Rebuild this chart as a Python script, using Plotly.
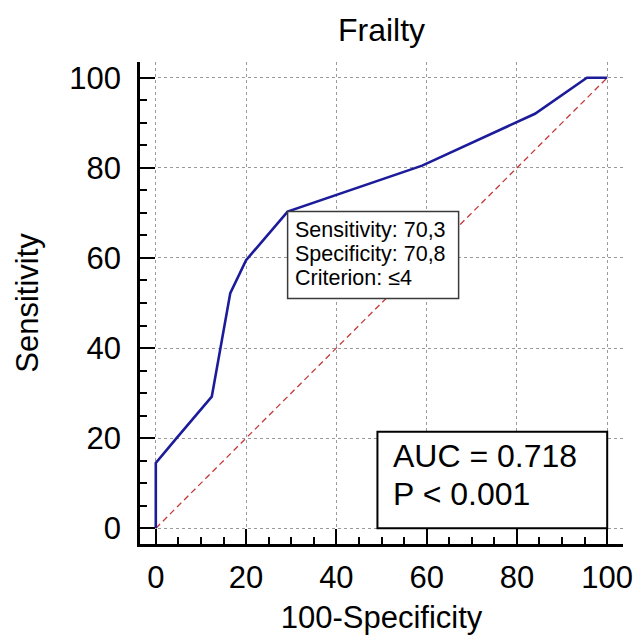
import plotly.graph_objects as go

# ---- data ----
fpr = [0, 0, 4.6, 12.4, 16.5, 20.0, 29.2, 59.0, 84.0, 95.5, 100]   # 100-Specificity
sens = [0, 14.5, 20.0, 29.2, 52.2, 59.5, 70.3, 80.5, 92.0, 100, 100]  # Sensitivity
diag_x = [0, 100]
diag_y = [0, 100]
tick_vals = [0, 20, 40, 60, 80, 100]
crit_fpr = 29.2
crit_sens = 70.3
crit_lines = ["Sensitivity: 70,3", "Specificity: 70,8", "Criterion: \u22644"]
stat_lines = ["AUC = 0.718", "P < 0.001"]
chart_title = "Frailty"
x_title = "100-Specificity"
y_title = "Sensitivity"

# ---- layout constants ----
FONT = "Liberation Sans, Arial, sans-serif"
stat_box = dict(x0=49.1, x1=100, y0=0, y1=21.4)

fig = go.Figure()
fig.add_trace(go.Scatter(x=diag_x, y=diag_y, mode="lines",
                         line=dict(color="#c43a3a", width=1.3, dash="6px,4px"),
                         hoverinfo="skip", showlegend=False))
fig.add_trace(go.Scatter(x=fpr, y=sens, mode="lines",
                         line=dict(color="#1c1c9a", width=2.6),
                         showlegend=False))

axis_common = dict(
    range=[-3.5, 103.5], tickvals=tick_vals, showline=True, linecolor="black",
    linewidth=2.5, ticks="inside", ticklen=15, tickwidth=2, tickcolor="black",
    showgrid=True, gridcolor="#9a9a9a", gridwidth=1, griddash="3px,3px",
    zeroline=False, tickfont=dict(family=FONT, size=31, color="black"),
    minor=dict(dtick=5, tick0=0, ticks="inside", ticklen=7, tickwidth=1.5,
               tickcolor="black", showgrid=False),
    fixedrange=True,
)

fig.update_layout(
    width=639, height=635,
    margin=dict(l=140, r=16, t=62, b=91, autoexpand=False),
    paper_bgcolor="white", plot_bgcolor="white",
    font=dict(family=FONT, color="black"),
    title=dict(text=chart_title, x=0.5, xref="paper", xanchor="center",
               y=1 - 30 / 635, yanchor="middle",
               font=dict(family=FONT, size=32, color="black")),
    xaxis=dict(**axis_common, ticklabelstandoff=4,
               title=dict(text=x_title, standoff=18,
                          font=dict(family=FONT, size=31, color="black"))),
    yaxis=dict(**axis_common, ticklabelstandoff=10,
               title=dict(text=y_title, standoff=22,
                          font=dict(family=FONT, size=31, color="black"))),
)

# criterion box anchored at the criterion point
fig.add_shape(type="rect", xref="x", yref="y", xsizemode="pixel", ysizemode="pixel",
              xanchor=crit_fpr, yanchor=crit_sens, x0=0, x1=171, y0=-87, y1=0,
              line=dict(color="#3a3a3a", width=1.5), fillcolor="white", layer="above")
for i, t in enumerate(crit_lines):
    fig.add_annotation(x=crit_fpr, y=crit_sens, xref="x", yref="y", text=t,
                       showarrow=False, xanchor="left", yanchor="middle",
                       xshift=5, yshift=-(18 + 24.2 * i),
                       font=dict(family=FONT, size=21.5, color="black"))

# AUC box
fig.add_shape(type="rect", xref="x", yref="y", **stat_box,
              line=dict(color="black", width=2), fillcolor="white", layer="above")
for i, t in enumerate(stat_lines):
    fig.add_annotation(x=stat_box["x0"], y=stat_box["y1"], xref="x", yref="y", text=t,
                       showarrow=False, xanchor="left", yanchor="middle",
                       xshift=14, yshift=-(24.5 + 38 * i),
                       font=dict(family=FONT, size=32, color="black"))

fig.write_html("out.html", config={"displayModeBar": False},
               post_script="document.body.style.margin='0';document.body.style.padding='0';")
